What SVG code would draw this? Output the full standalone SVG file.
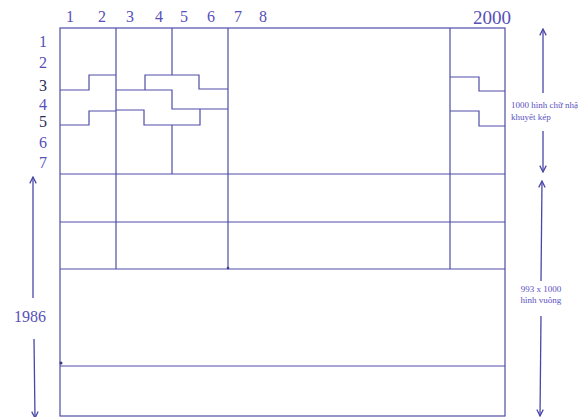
<svg xmlns="http://www.w3.org/2000/svg" width="580" height="417" viewBox="0 0 580 417">
<defs>
<marker id="ah" viewBox="0 0 10 10" refX="9" refY="5" markerWidth="8" markerHeight="8" markerUnits="userSpaceOnUse" orient="auto">
<polyline points="1,1 9,5 1,9" fill="none" stroke="#4a47a8" stroke-width="1.6"/>
</marker>
</defs>
<style>
.ln{fill:none;stroke:#4e4da8;stroke-width:1.2}
.ar{fill:none;stroke:#4a47a8;stroke-width:1.3;marker-end:url(#ah)}
.num{font-family:"Liberation Serif",serif;font-size:16px;fill:#5650b8;text-anchor:middle}
.dk{fill:#2c2b58}
.sm{font-family:"Liberation Serif",serif;font-size:9px;fill:#5a52c0}
</style>
<rect width="580" height="417" fill="#ffffff"/>
<g id="grid" class="ln">
<rect x="60" y="28" width="445" height="388"/>
<line x1="116" y1="28" x2="116" y2="269"/>
<line x1="228" y1="28" x2="228" y2="269"/>
<line x1="450" y1="28" x2="450" y2="269"/>
<line x1="172" y1="28" x2="172" y2="75"/>
<line x1="172" y1="125" x2="172" y2="174"/>
<line x1="60" y1="174" x2="505" y2="174"/>
<line x1="60" y1="222" x2="505" y2="222"/>
<line x1="60" y1="269" x2="505" y2="269"/>
<line x1="60" y1="366" x2="505" y2="366"/>
</g>
<g id="pieces" class="ln">
<polyline points="60,90 89,90 89,75 116,75"/>
<polyline points="60,125 89,125 89,111 116,111"/>
<polyline points="145,90 145,75 199,75 199,89 228,89"/>
<polyline points="116,90 172,90 172,109 228,109"/>
<polyline points="116,110 144,110 144,125 200,125 200,109"/>
<polyline points="450,77 479,77 479,91 505,91"/>
<polyline points="450,111 479,111 479,126 505,126"/>
</g>
<g id="dots" fill="#3a3a80">
<circle cx="61" cy="363" r="1.5"/>
<circle cx="228" cy="268" r="1.3"/>
</g>
<g id="top-labels" class="num">
<text x="70" y="22">1</text>
<text x="102" y="22">2</text>
<text x="130" y="22">3</text>
<text x="159" y="22">4</text>
<text x="184" y="22">5</text>
<text x="211" y="22">6</text>
<text x="238" y="22">7</text>
<text x="263" y="22">8</text>
<text x="492" y="24" font-size="19">2000</text>
</g>
<g id="left-labels" class="num">
<text x="43" y="47">1</text>
<text x="43" y="68">2</text>
<text x="43" y="91" class="dk">3</text>
<text x="43" y="110">4</text>
<text x="43" y="127" class="dk">5</text>
<text x="43" y="148">6</text>
<text x="43" y="168">7</text>
</g>
<g id="connectors">
<line class="ar" x1="543" y1="93" x2="543" y2="29"/>
<line class="ar" x1="543" y1="131" x2="543" y2="172"/>
<line class="ar" x1="541" y1="281" x2="542" y2="181"/>
<line class="ar" x1="541" y1="316" x2="540" y2="416"/>
<line class="ar" x1="33" y1="298" x2="33" y2="177"/>
<line class="ar" x1="34" y1="339" x2="35" y2="418"/>
</g>
<g id="dim-labels">
<text class="sm" x="511" y="108">1000 hình chữ nhậ</text>
<text class="sm" x="511" y="120">khuyết kép</text>
<text class="sm" x="541" y="292" text-anchor="middle">993 x 1000</text>
<text class="sm" x="541" y="303" text-anchor="middle">hình vuông</text>
<text class="num" x="30" y="322" font-size="17">1986</text>
</g>
</svg>
